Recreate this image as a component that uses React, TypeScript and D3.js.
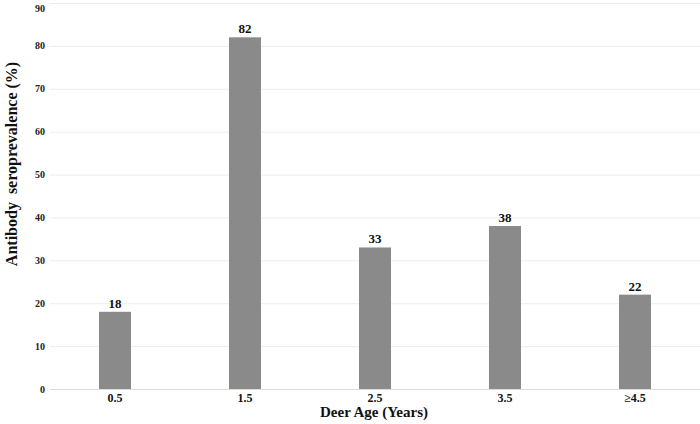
import React, { useEffect, useRef } from "react";
import * as d3 from "d3";

const ages = ["0.5", "1.5", "2.5", "3.5", "≥4.5"];
const prevalence = [18, 82, 33, 38, 22];
const yTicks = [0, 10, 20, 30, 40, 50, 60, 70, 80, 90];

const W = 700;
const H = 424;
const FONT = "'Liberation Serif', 'Times New Roman', serif";

export default function App() {
    const ref = useRef<SVGSVGElement>(null);

    useEffect(() => {
        const svg = d3.select(ref.current);
        svg.selectAll("*").remove();

        const x = d3.scaleBand().domain(ages).range([50, 700]).paddingInner(0.754).paddingOuter(0.377);
        const y = d3.scaleLinear().domain([0, 90]).range([389, 3]);

        const g = svg.append("g").attr("font-family", FONT).attr("font-weight", "bold");

        // grid
        g.append("g")
            .selectAll("line")
            .data(yTicks)
            .join("line")
            .attr("x1", 50)
            .attr("x2", 700)
            .attr("y1", (d) => y(d) + 0.5)
            .attr("y2", (d) => y(d) + 0.5)
            .attr("stroke", (d) => (d === 0 ? "#dcdcdc" : "#ececec"))
            .attr("stroke-width", 1);

        // y tick labels
        g.append("g")
            .selectAll("text")
            .data(yTicks)
            .join("text")
            .attr("x", 45)
            .attr("y", (d) => Math.max(y(d), 8))
            .attr("dy", "0.35em")
            .attr("text-anchor", "end")
            .attr("font-size", 10)
            .attr("fill", "#222")
            .text((d) => d);

        // bars
        g.append("g")
            .selectAll("rect")
            .data(prevalence)
            .join("rect")
            .attr("x", (d, i) => x(ages[i]))
            .attr("y", (d) => y(d))
            .attr("width", x.bandwidth())
            .attr("height", (d) => y(0) - y(d))
            .attr("fill", "#8a8a8a");

        // value labels
        g.append("g")
            .selectAll("text")
            .data(prevalence)
            .join("text")
            .attr("x", (d, i) => x(ages[i]) + x.bandwidth() / 2)
            .attr("y", (d) => y(d) - 4)
            .attr("text-anchor", "middle")
            .attr("font-size", 13)
            .attr("fill", "#111")
            .text((d) => d);

        // x tick labels
        g.append("g")
            .selectAll("text")
            .data(ages)
            .join("text")
            .attr("x", (d) => x(d) + x.bandwidth() / 2)
            .attr("y", 402)
            .attr("text-anchor", "middle")
            .attr("font-size", 12)
            .attr("fill", "#111")
            .text((d) => d);

        // axis titles
        g.append("text")
            .attr("x", 374)
            .attr("y", 417)
            .attr("text-anchor", "middle")
            .attr("font-size", 15)
            .attr("fill", "#111")
            .text("Deer Age (Years)");

        g.append("text")
            .attr("transform", "translate(17,164) rotate(-90)")
            .attr("text-anchor", "middle")
            .attr("font-size", 16)
            .attr("fill", "#111")
            .attr("xml:space", "preserve")
            .style("white-space", "pre")
            .text("Antibody  seroprevalence (%)");
    }, []);

    return (
        <svg
            ref={ref}
            width={W}
            height={H}
            style={{ position: "absolute", left: 0, top: 0, background: "#fff" }}
        ></svg>
    );
}
